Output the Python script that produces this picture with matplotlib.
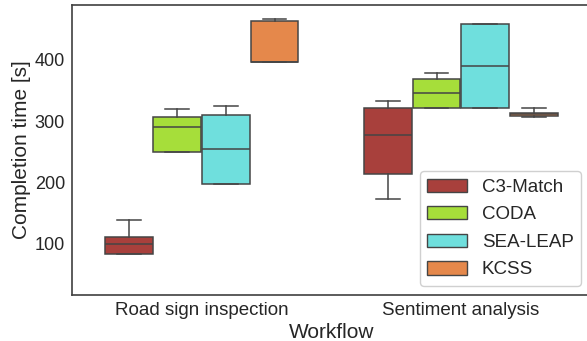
import matplotlib
matplotlib.use("Agg")
import matplotlib.pyplot as plt
from matplotlib.patches import Patch

plt.rcParams['font.family'] = ['Liberation Sans', 'DejaVu Sans']

workflows = ["Road sign inspection", "Sentiment analysis"]
tools = ["C3-Match", "CODA", "SEA-LEAP", "KCSS"]
colors = ["#a8403c", "#a6de3a", "#6fdfdd", "#e5884b"]

# per tool: [road sign, sentiment]
whislo = {"C3-Match": [82, 173], "CODA": [250, 322], "SEA-LEAP": [197, 321], "KCSS": [396, 307]}
q1 = {"C3-Match": [82, 213], "CODA": [250, 322], "SEA-LEAP": [197, 321], "KCSS": [396, 308]}
med = {"C3-Match": [98, 277], "CODA": [290, 346], "SEA-LEAP": [254, 390], "KCSS": [396, 311]}
q3 = {"C3-Match": [110, 322], "CODA": [306, 368], "SEA-LEAP": [310, 459], "KCSS": [463, 313]}
whishi = {"C3-Match": [138, 332], "CODA": [320, 378], "SEA-LEAP": [324, 459], "KCSS": [467, 321]}

fig = plt.figure(figsize=(5.87, 3.41), dpi=100)
ax = fig.add_axes([72 / 587, 46 / 341, 518.4 / 587, 290 / 341])

width = 0.75
step = width / len(tools)
edge = "#454545"
for i, tool in enumerate(tools):
    stats = []
    for j in range(len(workflows)):
        stats.append(dict(whislo=whislo[tool][j], q1=q1[tool][j], med=med[tool][j],
                          q3=q3[tool][j], whishi=whishi[tool][j], fliers=[]))
    pos = [j - width / 2 + step * (i + 0.5) for j in range(len(workflows))]
    ax.bxp(stats, positions=pos, widths=step * 0.98, patch_artist=True,
           showfliers=False, manage_ticks=False,
           boxprops=dict(facecolor=colors[i], edgecolor=edge, linewidth=1.1),
           medianprops=dict(color=edge, linewidth=1.1),
           whiskerprops=dict(color=edge, linewidth=1.1),
           capprops=dict(color=edge, linewidth=1.1))

ax.set_xlim(-0.5, 1.5)
ax.set_ylim(15, 490)
ax.set_xticks(range(len(workflows)))
ax.set_xticklabels(workflows)
ax.set_yticks([100, 200, 300, 400])
ax.tick_params(length=0, labelsize=13.5, pad=5, colors="#262626")
ax.tick_params(axis="y", labelsize=13)
ax.set_xlabel("Workflow", fontsize=15, color="#262626", labelpad=3)
ax.set_ylabel("Completion time [s]", fontsize=15, color="#262626", labelpad=3)
for s in ax.spines.values():
    s.set_color("#404040")
    s.set_linewidth(1.2)

handles = [Patch(facecolor=c, edgecolor=edge, label=t) for t, c in zip(tools, colors)]
fig.legend(handles=handles, loc="lower right", bbox_to_anchor=(581 / 587, 55 / 341),
           borderaxespad=0, fontsize=13.5, handlelength=2.1, handleheight=0.7,
           labelspacing=0.56, edgecolor="#d0d0d0", framealpha=1, labelcolor="#262626")

fig.savefig("out.png", dpi=100)
